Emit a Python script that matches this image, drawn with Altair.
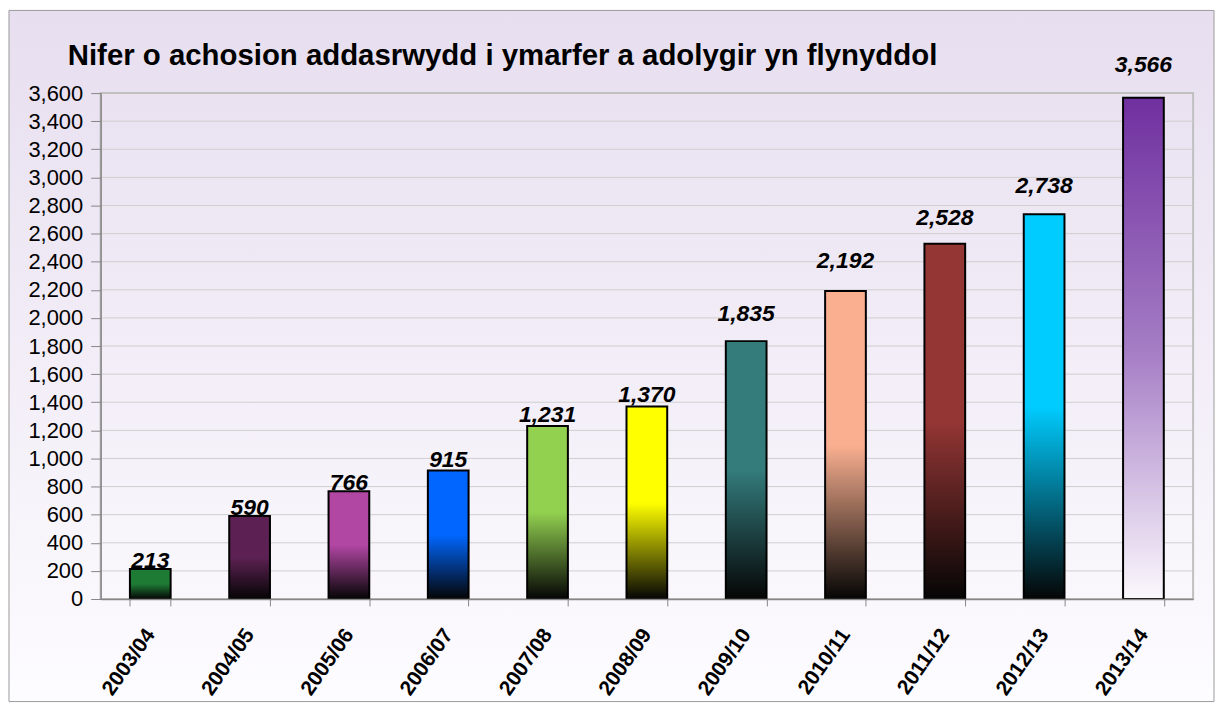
import altair as alt
import pandas as pd

# ---- data ----
years = ["2003/04", "2004/05", "2005/06", "2006/07", "2007/08", "2008/09",
         "2009/10", "2010/11", "2011/12", "2012/13", "2013/14"]
values = [213, 590, 766, 915, 1231, 1370, 1835, 2192, 2528, 2738, 3566]
bar_colors = ["#1e7b34", "#5c2152", "#b146a3", "#0066ff", "#92d050", "#ffff00",
              "#347b7c", "#fab090", "#943634", "#00ccff", "#7030a0"]
label_lift = [1, 1, 1, 3, 4, 4, 20, 23, 19, 21, 26]   # px between label baseline and bar top
y_ticks = list(range(0, 3601, 200))
title_text = "Nifer o achosion addasrwydd i ymarfer a adolygir yn flynyddol"

W, H = 1097, 508
YMAX = 3600
FONT = "Liberation Sans"

df = pd.DataFrame({"year": years, "value": values, "lift": label_lift})
ticks_df = pd.DataFrame({"tick": y_ticks[1:-1]})
bg_df = pd.DataFrame({"bg": [0]})

x_scale = alt.Scale(domain=years, paddingInner=0.59, paddingOuter=0.295)
y_scale = alt.Scale(domain=[0, YMAX], nice=False, zero=True)

x_axis = alt.Axis(title=None, labelAngle=-55, labelFont=FONT, labelFontSize=21,
                  labelFontWeight="bold", labelColor="#000000", tickBand="extent",
                  tickSize=7, tickColor="#868686", domainColor="#868686",
                  domainWidth=1.5, labelPadding=25, zindex=1, labelOverlap=False)
y_axis = alt.Axis(title=None, values=y_ticks, format=",d", labelFont=FONT,
                  labelFontSize=22, labelColor="#000000", tickSize=10,
                  tickColor="#868686", domainColor="#868686", domainWidth=1.5,
                  labelPadding=8, grid=False, zindex=1)

# background panel with a soft lavender gradient
bg = alt.Chart(bg_df).mark_rect(
    fill=alt.Gradient(gradient="linear", x1=0, x2=0, y1=0, y2=1,
                      stops=[alt.GradientStop(color="#e7deef", offset=0),
                             alt.GradientStop(color="#fdfcff", offset=1)]),
    stroke="#9a9a9a", strokeWidth=1,
).encode(x=alt.value(-92), x2=alt.value(1118), y=alt.value(-83), y2=alt.value(611))

# plot area border
frame = alt.Chart(bg_df).mark_rect(fillOpacity=0, stroke="#c0c0c0", strokeWidth=2).encode(
    x=alt.value(0), x2=alt.value(W), y=alt.value(0), y2=alt.value(H))

grid = alt.Chart(ticks_df).mark_rule(color="#cfcfcf", strokeWidth=1).encode(
    y=alt.Y("tick:Q", scale=y_scale, axis=y_axis))

layers = [bg, frame, grid]
for i, (yr, col) in enumerate(zip(years, bar_colors)):
    if yr == "2013/14":
        stops = [alt.GradientStop(color=col, offset=0),
                 alt.GradientStop(color="#a47cc4", offset=0.5),
                 alt.GradientStop(color="#fbf8fd", offset=1)]
    else:
        stops = [alt.GradientStop(color=col, offset=0),
                 alt.GradientStop(color=col, offset=0.5),
                 alt.GradientStop(color="#050505", offset=1)]
    grad = alt.Gradient(gradient="linear", x1=0, x2=0, y1=0, y2=1, stops=stops)
    layers.append(
        alt.Chart(df).transform_filter(alt.datum.year == yr)
        .mark_bar(fill=grad, stroke="#000000", strokeWidth=2)
        .encode(
            x=alt.X("year:N", sort=years, scale=x_scale, axis=x_axis),
            y=alt.Y("value:Q", scale=y_scale, axis=y_axis),
        )
    )

labels = alt.Chart(df).transform_calculate(
    label_y=f"datum.value + datum.lift * {YMAX} / {H}"
).mark_text(font=FONT, fontSize=23, fontWeight="bold", fontStyle="italic",
            color="#000000", baseline="alphabetic", align="center").encode(
    x=alt.X("year:N", sort=years, scale=x_scale, axis=x_axis),
    y=alt.Y("label_y:Q", scale=y_scale, axis=y_axis),
    text=alt.Text("value:Q", format=",d"),
)
layers.append(labels)

chart = alt.layer(*layers).properties(
    width=W, height=H, padding=0,
    title=alt.TitleParams(text=title_text, anchor="start", frame="group", font=FONT,
                          fontSize=29.5, fontWeight="bold", color="#000000",
                          baseline="alphabetic", offset=-85, dx=-33),
).configure_view(strokeWidth=0)

chart.save("out.html", embed_options={"renderer": "svg", "actions": False})
